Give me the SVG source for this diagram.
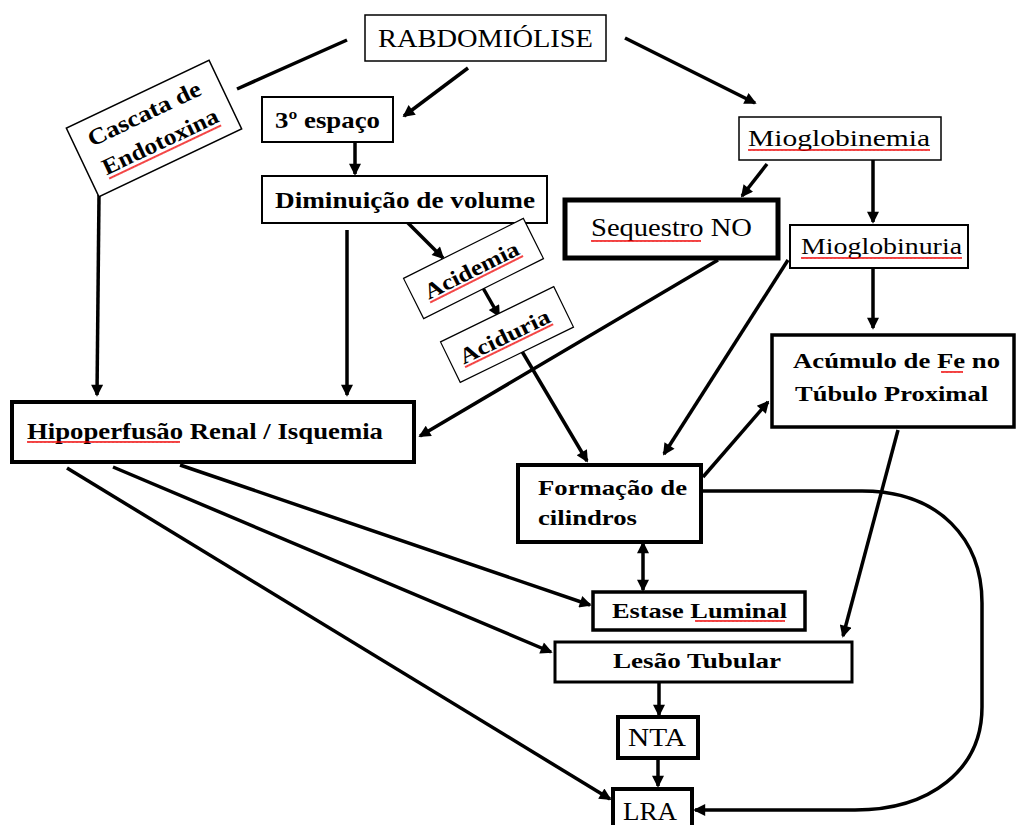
<svg xmlns="http://www.w3.org/2000/svg" width="1016" height="825" viewBox="0 0 1016 825">
<defs>
<style>
.t{font-family:"Liberation Serif","Times New Roman",serif;fill:#000}
.b{font-weight:bold}
.box{fill:#fff;stroke:#000}
.c{fill:none;stroke:#000;stroke-width:3.5}
.a{marker-end:url(#ah)}
</style>
<marker id="ah" viewBox="0 0 10 10" refX="8.5" refY="5" markerWidth="14" markerHeight="12" markerUnits="userSpaceOnUse" orient="auto-start-reverse"><path d="M0,0 L10,5 L0,10 z" fill="#000"/></marker>
<pattern id="sq" width="4" height="4" patternUnits="userSpaceOnUse"><path d="M0,3 L1,1 L2,3 L3,1 L4,3" fill="none" stroke="#e00" stroke-width="0.9"/></pattern>
</defs>
<rect width="1016" height="825" fill="#fff"/>

<g id="connectors">
<path class="c" d="M347,40 L237,89"/>
<path class="c a" d="M468,68 L404,116"/>
<path class="c a" d="M625,38 L755,103"/>
<path class="c a" d="M767,164 L742,196"/>
<path class="c a" d="M873,160 L873,222"/>
<path class="c a" d="M873,268 L873,328"/>
<path class="c a" d="M355,142 L355,174"/>
<path class="c a" d="M407,222 L443,258"/>
<path class="c a" d="M347,230 L347,395"/>
<path class="c a" d="M99,195 L97,395"/>
<path class="c a" d="M483,288 L499,316"/>
<path class="c a" d="M520,348 L587,461"/>
<path class="c a" d="M718,260 L420,436"/>
<path class="c a" d="M788,260 L664,454"/>
<path class="c a" d="M703,477 L768,402"/>
<path class="c a" d="M898,430 L843,636"/>
<path class="c a" d="M643,543 L643,590" style="marker-start:url(#ah)"/>
<path class="c a" d="M180,465 L590,605"/>
<path class="c a" d="M113,467 L551,652"/>
<path class="c a" d="M67,468 L610,799"/>
<path class="c a" d="M659,683 L659,715"/>
<path class="c a" d="M658,758 L658,786"/>
<path class="c a" d="M701,491 L862,491 C940,491 982,540 982,603 L982,707 C982,770 930,810 855,810 L695,810"/>
</g>

<g id="rabdomiolise">
<rect class="box" x="365" y="15" width="241" height="46" stroke-width="1.5"/>
<text class="t" x="378" y="47" font-size="26" textLength="215" lengthAdjust="spacingAndGlyphs">RABDOMIÓLISE</text>
</g>

<g id="cascata" transform="translate(154,128.5) rotate(-25.4)">
<rect class="box" x="-79" y="-38" width="158" height="76" stroke-width="1.5"/>
<text class="t b" x="-64" y="-10" font-size="23" textLength="123" lengthAdjust="spacingAndGlyphs">Cascata de</text>
<text class="t b" x="-63" y="22" font-size="23" textLength="126" lengthAdjust="spacingAndGlyphs">Endotoxina</text>
<g transform="translate(-62,24)"><rect width="124" height="4" fill="url(#sq)"/></g>
</g>

<g id="terceiro-espaco">
<rect class="box" x="262" y="97" width="131" height="45" stroke-width="2"/>
<text class="t b" x="275" y="128" font-size="23" textLength="105" lengthAdjust="spacingAndGlyphs">3º espaço</text>
</g>

<g id="diminuicao">
<rect class="box" x="262" y="176" width="285" height="47" stroke-width="2"/>
<text class="t b" x="275" y="208" font-size="23" textLength="260" lengthAdjust="spacingAndGlyphs">Diminuição de volume</text>
</g>

<g id="acidemia" transform="translate(473.5,268.5) rotate(-26.6)">
<rect class="box" x="-67" y="-22.5" width="134" height="45" stroke-width="1.2"/>
<text class="t b" x="-54" y="8" font-size="22" textLength="103" lengthAdjust="spacingAndGlyphs">Acidemia</text>
<g transform="translate(-54,9)"><rect width="104" height="4" fill="url(#sq)"/></g>
</g>

<g id="aciduria" transform="translate(507,334.5) rotate(-26)">
<rect class="box" x="-63" y="-22.5" width="126" height="45" stroke-width="1.2"/>
<text class="t b" x="-52" y="8" font-size="22" textLength="98" lengthAdjust="spacingAndGlyphs">Aciduria</text>
<g transform="translate(-52,9)"><rect width="98" height="4" fill="url(#sq)"/></g>
</g>

<g id="mioglobinemia">
<rect class="box" x="739" y="117" width="202" height="43" stroke-width="1.5"/>
<text class="t" x="748" y="146" font-size="24" textLength="182" lengthAdjust="spacingAndGlyphs">Mioglobinemia</text>
<g transform="translate(748,148)"><rect width="182" height="4" fill="url(#sq)"/></g>
</g>

<g id="sequestro-no">
<rect class="box" x="565" y="200" width="213" height="58" stroke-width="5"/>
<text class="t" x="591" y="236" font-size="25" textLength="161" lengthAdjust="spacingAndGlyphs">Sequestro NO</text>
<g transform="translate(591,239)"><rect width="110" height="4" fill="url(#sq)"/></g>
</g>

<g id="mioglobinuria">
<rect class="box" x="790" y="225" width="178" height="43" stroke-width="2"/>
<text class="t" x="801" y="254" font-size="24" textLength="161" lengthAdjust="spacingAndGlyphs">Mioglobinuria</text>
<g transform="translate(801,256)"><rect width="161" height="4" fill="url(#sq)"/></g>
</g>

<g id="acumulo-fe">
<rect class="box" x="772" y="335" width="242" height="92" stroke-width="3.5"/>
<text class="t b" x="793" y="368" font-size="22" textLength="207" lengthAdjust="spacingAndGlyphs">Acúmulo de Fe no</text>
<text class="t b" x="795" y="401" font-size="22" textLength="193" lengthAdjust="spacingAndGlyphs">Túbulo Proximal</text>
<g transform="translate(941,370)"><rect width="22" height="4" fill="url(#sq)"/></g>
</g>

<g id="hipoperfusao">
<rect class="box" x="12" y="402" width="402" height="60" stroke-width="4"/>
<text class="t b" x="27" y="439" font-size="23" textLength="356" lengthAdjust="spacingAndGlyphs">Hipoperfusão Renal / Isquemia</text>
<g transform="translate(27,440)"><rect width="153" height="4" fill="url(#sq)"/></g>
</g>

<g id="formacao-cilindros">
<rect class="box" x="518" y="465" width="183" height="77" stroke-width="4"/>
<text class="t b" x="538" y="495" font-size="22" textLength="149" lengthAdjust="spacingAndGlyphs">Formação de</text>
<text class="t b" x="538" y="525" font-size="22" textLength="99" lengthAdjust="spacingAndGlyphs">cilindros</text>
</g>

<g id="estase-luminal">
<rect class="box" x="593" y="592" width="212" height="38" stroke-width="3.5"/>
<text class="t b" x="612" y="618" font-size="22" textLength="175" lengthAdjust="spacingAndGlyphs">Estase Luminal</text>
<g transform="translate(695,619)"><rect width="90" height="4" fill="url(#sq)"/></g>
</g>

<g id="lesao-tubular">
<rect class="box" x="555" y="642" width="297" height="40" stroke-width="3"/>
<text class="t b" x="613" y="668" font-size="22" textLength="168" lengthAdjust="spacingAndGlyphs">Lesão Tubular</text>
</g>

<g id="nta">
<rect class="box" x="618" y="717" width="80" height="41" stroke-width="4"/>
<text class="t" x="628" y="746" font-size="26" textLength="58" lengthAdjust="spacingAndGlyphs">NTA</text>
</g>

<g id="lra">
<rect class="box" x="613" y="789" width="79" height="44" stroke-width="4"/>
<text class="t" x="623" y="820" font-size="26" textLength="54" lengthAdjust="spacingAndGlyphs">LRA</text>
</g>
</svg>
